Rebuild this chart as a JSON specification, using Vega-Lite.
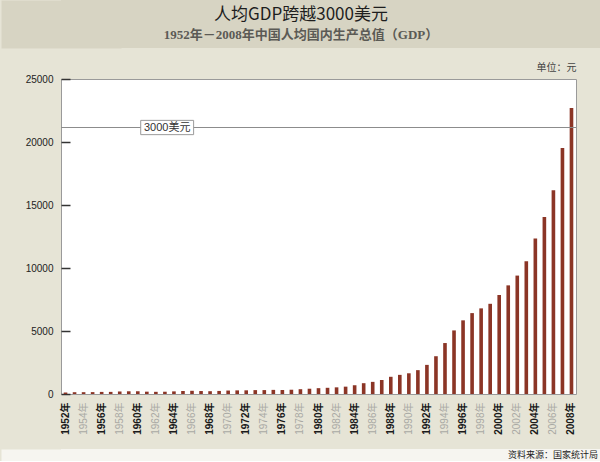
{
  "$schema": "https://vega.github.io/schema/vega-lite/v6.json",
  "description": "1952-2008 China GDP per capita, bars with the 3000 USD line",
  "background": "#e6e4d6",
  "padding": 0,
  "spacing": 14,
  "config": {
    "font": "Liberation Sans",
    "view": {"stroke": null}
  },
  "datasets": {
    "header": [
      {"row": 1, "text": "人均GDP跨越3000美元"},
      {"row": 2, "text": "1952年－2008年中国人均国内生产总值（GDP）"}
    ],
    "gdp": [
      {"year": 1952, "gdp": 119}, {"year": 1953, "gdp": 142}, {"year": 1954, "gdp": 144},
      {"year": 1955, "gdp": 150}, {"year": 1956, "gdp": 166}, {"year": 1957, "gdp": 168},
      {"year": 1958, "gdp": 200}, {"year": 1959, "gdp": 216}, {"year": 1960, "gdp": 218},
      {"year": 1961, "gdp": 185}, {"year": 1962, "gdp": 173}, {"year": 1963, "gdp": 181},
      {"year": 1964, "gdp": 208}, {"year": 1965, "gdp": 240}, {"year": 1966, "gdp": 254},
      {"year": 1967, "gdp": 235}, {"year": 1968, "gdp": 222}, {"year": 1969, "gdp": 243},
      {"year": 1970, "gdp": 275}, {"year": 1971, "gdp": 288}, {"year": 1972, "gdp": 292},
      {"year": 1973, "gdp": 309}, {"year": 1974, "gdp": 310}, {"year": 1975, "gdp": 327},
      {"year": 1976, "gdp": 316}, {"year": 1977, "gdp": 339}, {"year": 1978, "gdp": 381},
      {"year": 1979, "gdp": 419}, {"year": 1980, "gdp": 463}, {"year": 1981, "gdp": 492},
      {"year": 1982, "gdp": 528}, {"year": 1983, "gdp": 583}, {"year": 1984, "gdp": 695},
      {"year": 1985, "gdp": 858}, {"year": 1986, "gdp": 963}, {"year": 1987, "gdp": 1112},
      {"year": 1988, "gdp": 1366}, {"year": 1989, "gdp": 1519}, {"year": 1990, "gdp": 1644},
      {"year": 1991, "gdp": 1893}, {"year": 1992, "gdp": 2311}, {"year": 1993, "gdp": 2998},
      {"year": 1994, "gdp": 4044}, {"year": 1995, "gdp": 5046}, {"year": 1996, "gdp": 5846},
      {"year": 1997, "gdp": 6420}, {"year": 1998, "gdp": 6796}, {"year": 1999, "gdp": 7159},
      {"year": 2000, "gdp": 7858}, {"year": 2001, "gdp": 8622}, {"year": 2002, "gdp": 9398},
      {"year": 2003, "gdp": 10542}, {"year": 2004, "gdp": 12336}, {"year": 2005, "gdp": 14053},
      {"year": 2006, "gdp": 16165}, {"year": 2007, "gdp": 19524}, {"year": 2008, "gdp": 22698}
    ],
    "line3000": [
      {"year": 1963, "value": 21150, "label": "3000美元"}
    ],
    "source": [
      {"text": "资料来源：国家统计局"}
    ]
  },
  "vconcat": [
    {
      "width": 540,
      "height": 48,
      "view": {"fill": "#d7d4c3", "stroke": null},
      "data": {"name": "header"},
      "encoding": {
        "y": {
          "field": "row",
          "type": "ordinal",
          "scale": {"domain": [1, 2], "padding": 0.73, "align": 0.544},
          "axis": {"labels": false, "ticks": false, "grid": false, "title": null, "domainWidth": 120, "domainColor": "#d7d4c3", "domainCap": "butt"}
        },
        "text": {"field": "text"}
      },
      "layer": [
        {
          "transform": [{"filter": "datum.row == 1"}],
          "mark": {"type": "text", "dx": -30, "font": "Noto Sans CJK SC", "fontSize": 17, "color": "#1e1e1e", "baseline": "middle"}
        },
        {
          "transform": [{"filter": "datum.row == 2"}],
          "mark": {"type": "text", "dx": -30, "font": "Liberation Serif, Noto Sans CJK SC", "fontSize": 13, "fontWeight": "bold", "color": "#5b5a55", "baseline": "middle"}
        }
      ]
    },
    {
      "width": 515,
      "height": 315,
      "title": {"text": "单位：元", "anchor": "end", "font": "Noto Sans CJK SC", "fontSize": 10, "fontWeight": "normal", "color": "#444", "offset": 1},
      "view": {"fill": "white", "stroke": "#9a9a9a"},
      "layer": [
        {
          "data": {"name": "gdp"},
          "mark": {"type": "bar", "color": "#8b3526", "width": {"band": 0.4}},
          "encoding": {
            "x": {
              "field": "year",
              "type": "ordinal",
              "scale": {"paddingInner": 0, "paddingOuter": 0},
              "axis": {
                "values": [1952, 1954, 1956, 1958, 1960, 1962, 1964, 1966, 1968, 1970, 1972, 1974, 1976, 1978, 1980, 1982, 1984, 1986, 1988, 1990, 1992, 1994, 1996, 1998, 2000, 2002, 2004, 2006, 2008],
                "labelExpr": "datum.value + '年'",
                "labelAngle": -90,
                "labelFont": "Liberation Sans, Noto Sans CJK SC",
                "labelFontSize": 10,
                "labelPadding": 8,
                "labelOverlap": false,
                "labelColor": {"condition": {"test": "datum.value % 4 == 0", "value": "#1a1a1a"}, "value": "#a9a9a4"},
                "labelFontWeight": {"condition": {"test": "datum.value % 4 == 0", "value": "bold"}, "value": "normal"},
                "ticks": false,
                "domain": false,
                "title": null
              }
            },
            "y": {
              "field": "gdp",
              "type": "quantitative",
              "scale": {"domain": [0, 25000], "nice": false},
              "axis": {
                "values": [0, 5000, 10000, 15000, 20000, 25000],
                "format": "d",
                "offset": -9,
                "tickSize": 9,
                "tickWidth": 1.5,
                "tickColor": "#333",
                "labelPadding": 8,
                "labelFontSize": 10,
                "labelColor": "#222",
                "domain": false,
                "grid": false,
                "minExtent": 69,
                "title": null
              }
            }
          }
        },
        {
          "data": {"name": "line3000"},
          "mark": {"type": "rule", "color": "#8c8c8c", "strokeWidth": 1},
          "encoding": {
            "y": {"field": "value", "type": "quantitative"}
          }
        },
        {
          "data": {"name": "line3000"},
          "mark": {"type": "point", "shape": "M-1,-0.27H1V0.27H-1Z", "size": 2800, "filled": true, "fill": "white", "stroke": "#9a9a9a", "strokeWidth": 1, "opacity": 1},
          "encoding": {
            "x": {"field": "year", "type": "ordinal", "bandPosition": 0.75},
            "y": {"field": "value", "type": "quantitative"}
          }
        },
        {
          "data": {"name": "line3000"},
          "mark": {"type": "text", "fontSize": 11, "font": "Liberation Sans, Noto Sans CJK SC", "color": "#333", "baseline": "middle"},
          "encoding": {
            "x": {"field": "year", "type": "ordinal", "bandPosition": 0.75},
            "y": {"field": "value", "type": "quantitative"},
            "text": {"field": "label"}
          }
        }
      ]
    },
    {
      "width": 540,
      "height": 12,
      "view": {"fill": "#f6f5f0", "stroke": null},
      "data": {"name": "source"},
      "mark": {"type": "text", "x": "width", "dx": -3, "align": "right", "font": "Noto Sans CJK SC", "fontSize": 9, "color": "#222", "baseline": "middle"},
      "encoding": {
        "y": {
          "field": "text",
          "type": "nominal",
          "axis": {"labels": false, "ticks": false, "grid": false, "title": null, "domainWidth": 120, "domainColor": "#f6f5f0", "domainCap": "butt"}
        },
        "text": {"field": "text"}
      }
    }
  ]
}
